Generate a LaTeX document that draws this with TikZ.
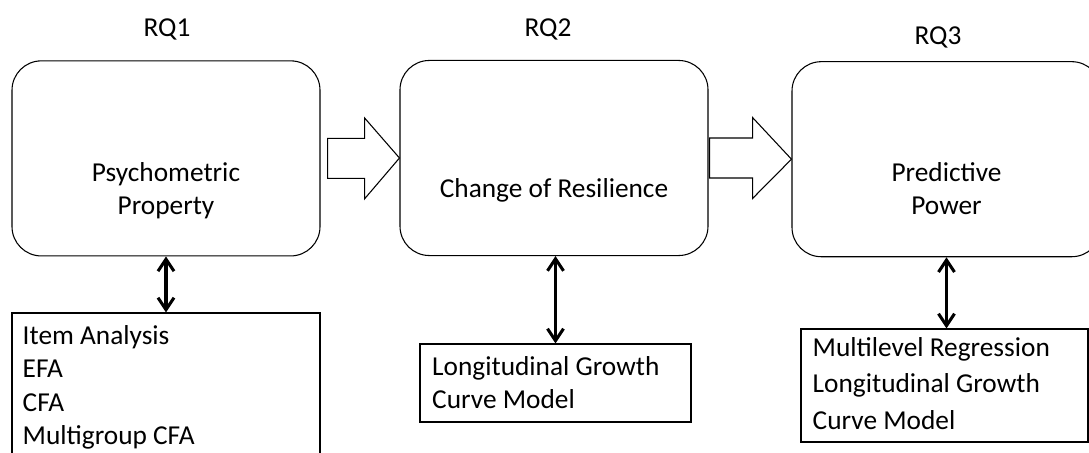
\documentclass[tikz,border=0pt]{standalone}
\usepackage{fontspec}
\setmainfont{Carlito}
\usetikzlibrary{arrows.meta,calc}
\begin{document}
\begin{tikzpicture}[x=0.75pt,y=-0.75pt,
  rbox/.style={draw=black, line width=0.8pt, rounded corners=22pt, inner sep=0pt, minimum height=146.3pt},
  mbox/.style={draw=black, line width=0.8pt, inner sep=0pt},
  lbl/.style={font=\fontsize{20.5}{24.6}\selectfont, inner sep=0pt},
  dbl/.style={line width=2.3pt, {Straight Barb[length=9pt,width=12pt]}-{Straight Barb[length=9pt,width=12pt]}},
  blk/.style={draw=black, line width=0.8pt, fill=white, line join=miter}]
\useasboundingbox (0,0) rectangle (1089,453);
\clip (0,0) rectangle (1089,453);
\fill[white] (0,0) rectangle (1089,453);

% top boxes
\node[rbox, minimum width=231pt] (b1) at (166,158.4) {};
\node[rbox, minimum width=231pt] (b2) at (554,158) {};
\node[rbox, minimum width=231.75pt] (b3) at (946.5,159.2) {};

% RQ labels
\node[lbl, anchor=base] (rq1) at (167,37) {RQ1};
\node[lbl, anchor=base] (rq2) at (548,37) {RQ2};
\node[lbl, anchor=base] (rq3) at (938,45) {RQ3};

% box texts
\node[lbl, anchor=base] (p1a) at ($(b1.center)+(0,23)$) {Psychometric};
\node[lbl, anchor=base] (p1b) at ($(b1.center)+(0,56)$) {Property};
\node[lbl, anchor=base] (p2) at ($(b2.center)+(0,39)$) {Change of Resilience};
\node[lbl, anchor=base] (p3a) at ($(b3.center)+(0,22)$) {Predictive};
\node[lbl, anchor=base] (p3b) at ($(b3.center)+(0,55)$) {Power};

% block arrows
\draw[blk] ($(b1.east)+(7,-20)$) -- ++(37,0) -- ++(0,-20.5) -- (b2.west)
  -- ($(b1.east)+(44,40.5)$) -- ++(0,-20.5) -- ($(b1.east)+(7,20)$) -- cycle;
\draw[blk] ($(b2.east)+(1,-20)$) -- ++(43,0) -- ++(0,-20.5) -- (b3.west)
  -- ($(b2.east)+(44,40.5)$) -- ++(0,-20.5) -- ($(b2.east)+(1,20)$) -- cycle;

% bottom boxes
\node[mbox, minimum width=231pt, minimum height=125.25pt] (c1) at (166,396.5) {};
\node[mbox, minimum width=203.25pt, minimum height=58.5pt] (c2) at (555.5,383) {};
\node[mbox, minimum width=215.25pt, minimum height=84.75pt] (c3) at (944.5,385.5) {};

% bottom texts
\node[lbl, anchor=base west] (t1a) at ($(c1.north west)+(11,32)$) {Item Analysis};
\node[lbl, anchor=base west] (t1b) at ($(c1.north west)+(11,65.3)$) {EFA};
\node[lbl, anchor=base west] (t1c) at ($(c1.north west)+(11,98.6)$) {CFA};
\node[lbl, anchor=base west] (t1d) at ($(c1.north west)+(11,132)$) {Multigroup CFA};
\node[lbl, anchor=base west] (t2a) at ($(c2.north west)+(12.5,32)$) {Longitudinal Growth};
\node[lbl, anchor=base west] (t2b) at ($(c2.north west)+(12.5,65)$) {Curve Model};
\node[lbl, anchor=base west] (t3a) at ($(c3.north west)+(12,28)$) {Multilevel Regression};
\node[lbl, anchor=base west] (t3b) at ($(c3.north west)+(12,64.5)$) {Longitudinal Growth};
\node[lbl, anchor=base west] (t3c) at ($(c3.north west)+(12,101)$) {Curve Model};

% double arrows
\draw[dbl] (b1.south) -- (c1.north);
\draw[dbl] (c2.north |- b2.south) -- (c2.north);
\draw[dbl] (b3.south) -- (b3.south |- c3.north);
\end{tikzpicture}
\end{document}
